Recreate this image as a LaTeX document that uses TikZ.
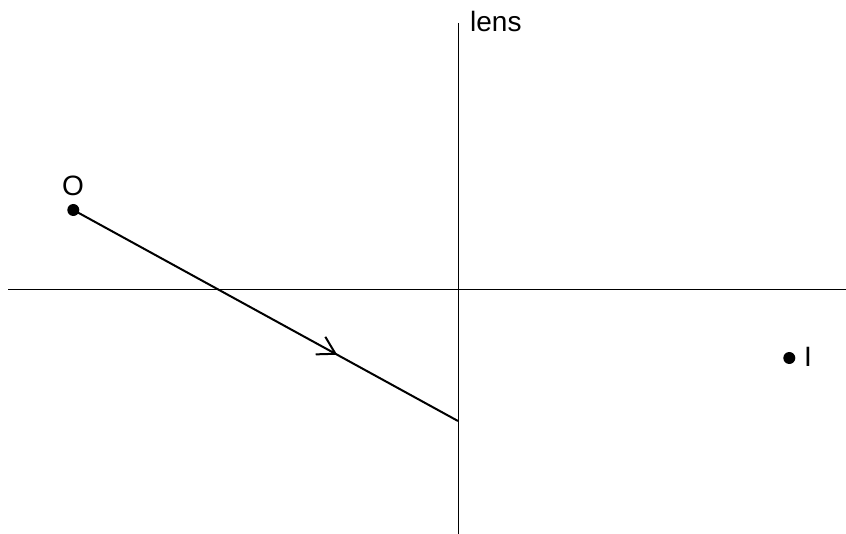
\documentclass[tikz,border=0pt]{standalone}
\usepackage{fontspec}
\setmainfont{Liberation Sans}
\usetikzlibrary{arrows.meta,decorations.markings}
\begin{document}
\begin{tikzpicture}[x=1pt,y=-1pt,
  axis/.style={line width=1pt,black},
  ray/.style={line width=2pt,black},
  dot/.style={circle,fill=black,inner sep=0pt,minimum size=12pt},
  lbl/.style={inner sep=0pt,anchor=base west,font=\fontsize{28}{33}\selectfont}]
\useasboundingbox (0,0) rectangle (846,534);
% axis and lens
\coordinate (axL) at (8,290);
\coordinate (axR) at (846,290);
\coordinate (lensT) at (458,23);
\coordinate (lensB) at (458,534);
\draw[axis] (axL) -- (axR);
\draw[axis] (lensT) -- (lensB);
\node[lbl] (lenslbl) at (470,32) {lens};
% object and image
\node[dot] (O) at (73.3,210) {};
\node[lbl] (Olbl) at (62,195.5) {O};
\node[dot] (I) at (789.3,358) {};
\node[lbl] (Ilbl) at (804,367) {I};
% ray
\coordinate (P) at (458,421);
\draw[ray,postaction={decorate},decoration={markings,
  mark=at position 0.686 with {\arrow{Straight Barb[length=17pt,width=20pt,line width=2pt]}}}]
  (O.center) -- (P);
\end{tikzpicture}
\end{document}
